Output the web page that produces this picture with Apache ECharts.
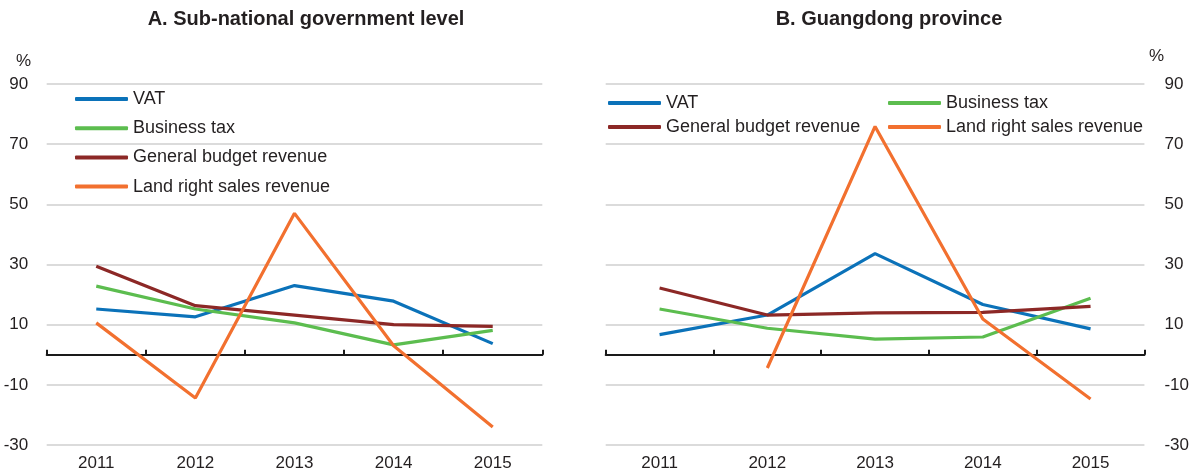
<!DOCTYPE html>
<html>
<head>
<meta charset="utf-8">
<script src="https://cdn.jsdelivr.net/npm/echarts@6/dist/echarts.min.js"></script>
<style>
  html, body { margin: 0; padding: 0; background: #fff; }
  #main { width: 1192px; height: 472px; }
</style>
</head>
<body>
<div id="main"></div>
<script>
// categories
const years = ['2011', '2012', '2013', '2014', '2015'];
const names = ['VAT', 'Business tax', 'General budget revenue', 'Land right sales revenue'];

// A. sub-national government level (% change)
const subVat = [15.2, 12.6, 23.0, 17.8, 3.7];
const subBusiness = [22.8, 15.2, 10.6, 3.3, 8.1];
const subGeneral = [29.4, 16.3, 13.2, 10.0, 9.4];
const subLand = [10.6, -14.4, 47.0, 3.0, -24.0];

// B. Guangdong province (% change)
const gdVat = [6.7, 13.2, 33.6, 16.7, 8.6];
const gdBusiness = [15.2, 8.8, 5.2, 5.9, 18.8];
const gdGeneral = [22.2, 13.2, 13.9, 14.1, 16.1];
const gdLand = [null, -4.4, 75.9, 11.9, -14.7];

// y axis ticks: -30, -10, ..., 90
const yMin = -30;
const yMax = 90;
const yStep = 20;

const colors = ['#0b72b9', '#5cbd4f', '#8c2826', '#f2702f'];
const FONT = "'Liberation Sans', Arial, Helvetica, sans-serif";
const TXT = '#231f20';

const chart = echarts.init(document.getElementById('main'), null, { renderer: 'canvas' });

function labelAxis(grid) {
  return {
    type: 'category', gridIndex: grid, data: years, position: 'bottom',
    axisLine: { show: false, onZero: false },
    axisTick: { show: false },
    axisLabel: { color: TXT, fontSize: 17, fontFamily: FONT, margin: 9.5 },
    splitLine: { show: false }
  };
}
// second x axis, only the black line at zero with its ticks
function zeroAxis(grid) {
  return {
    type: 'category', gridIndex: grid, data: years, position: 'top',
    axisLine: { show: true, onZero: true, lineStyle: { color: '#1a1a1a', width: 2 } },
    axisTick: { show: true, length: 5, lineStyle: { color: '#1a1a1a', width: 2 } },
    axisLabel: { show: false },
    splitLine: { show: false }
  };
}
function valueAxis(grid, pos, margin) {
  return {
    type: 'value', gridIndex: grid, position: pos,
    min: yMin, max: yMax, interval: yStep,
    axisLine: { show: false },
    axisTick: { show: false },
    axisLabel: { color: TXT, fontSize: 17, fontFamily: FONT, margin: margin },
    splitLine: { lineStyle: { color: '#cfcfcf', width: 1.5 } }
  };
}
function line(name, data, xi, yi, color) {
  return {
    name: name, type: 'line', data: data,
    xAxisIndex: xi, yAxisIndex: yi,
    symbol: 'none', connectNulls: false,
    lineStyle: { color: color, width: 3.2 },
    itemStyle: { color: color },
    emphasis: { disabled: true }
  };
}
function legend(left, top, data, gap) {
  return {
    orient: 'vertical', left: left, top: top, data: data,
    icon: 'roundRect', itemWidth: 53, itemHeight: 4, itemGap: gap,
    padding: 0,
    textStyle: { color: TXT, fontSize: 18, fontFamily: FONT }
  };
}

var option = {
  backgroundColor: '#fff',
  animation: false,
  color: colors,
  title: [
    { text: 'A. Sub-national government level', left: 306, top: 9.5, textAlign: 'center', padding: 0,
      textStyle: { fontSize: 20, fontWeight: 'bold', color: TXT, fontFamily: FONT } },
    { text: 'B. Guangdong province', left: 889, top: 9.5, textAlign: 'center', padding: 0,
      textStyle: { fontSize: 20, fontWeight: 'bold', color: TXT, fontFamily: FONT } }
  ],
  legend: [
    legend(75, 90, names, 11.2),
    legend(608, 94, [names[0], names[2]], 6),
    legend(888, 94, [names[1], names[3]], 6)
  ],
  grid: [
    { left: 46.7, right: 649.7, top: 84, bottom: 27 },
    { left: 605.7, right: 46.3, top: 84, bottom: 27 }
  ],
  xAxis: [labelAxis(0), zeroAxis(0), labelAxis(1), zeroAxis(1)],
  yAxis: [valueAxis(0, 'left', 18.5), valueAxis(1, 'right', 20)],
  series: [
    line(names[0], subVat, 0, 0, colors[0]),
    line(names[1], subBusiness, 0, 0, colors[1]),
    line(names[2], subGeneral, 0, 0, colors[2]),
    line(names[3], subLand, 0, 0, colors[3]),
    line(names[0], gdVat, 2, 1, colors[0]),
    line(names[1], gdBusiness, 2, 1, colors[1]),
    line(names[2], gdGeneral, 2, 1, colors[2]),
    line(names[3], gdLand, 2, 1, colors[3])
  ],
  graphic: [
    { type: 'text', left: 16, top: 53, style: { text: '%', fontSize: 17, fontFamily: FONT, fill: TXT } },
    { type: 'text', left: 1149, top: 48, style: { text: '%', fontSize: 17, fontFamily: FONT, fill: TXT } }
  ]
};

chart.setOption(option);
</script>
</body>
</html>
